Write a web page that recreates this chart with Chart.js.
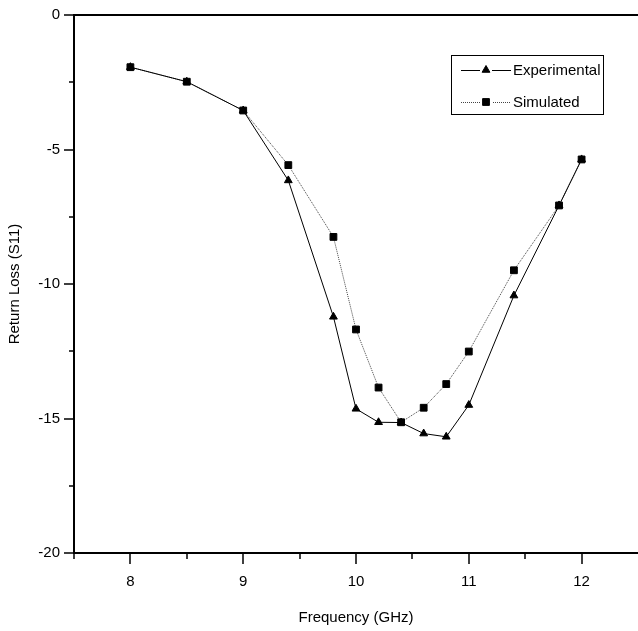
<!DOCTYPE html>
<html>
<head>
<meta charset="utf-8">
<script src="https://cdn.jsdelivr.net/npm/chart.js@4"></script>
<style>
  html, body { margin: 0; padding: 0; background: #fff; }
  #wrap { width: 638px; height: 631px; }
</style>
</head>
<body>
<div id="wrap"><canvas id="chart" width="638" height="631"></canvas></div>
<script>
// Frequency points (GHz)
const frequency = [8, 8.5, 9, 9.4, 9.8, 10, 10.2, 10.4, 10.6, 10.8, 11, 11.4, 11.8, 12];

// Return loss values
const experimental = [-1.94, -2.48, -3.55, -6.15, -11.22, -14.64, -15.14, -15.15, -15.56, -15.68, -14.5, -10.43, -7.08, -5.37];
const simulated    = [-1.94, -2.48, -3.55, -5.58, -8.25, -11.69, -13.85, -15.14, -14.6, -13.72, -12.51, -9.49, -7.08, -5.37];

// Axis ticks
const xMajorTicks = [8, 9, 10, 11, 12];
const xMinorTicks = [7.5, 8.5, 9.5, 10.5, 11.5];
const yMajorTicks = [0, -5, -10, -15, -20];
const yMinorTicks = [-2.5, -7.5, -12.5, -17.5];

const fontFamily = "'Liberation Sans', Arial, sans-serif";

function toPoints(values) {
    return frequency.map((f, i) => ({ x: f, y: values[i] }));
}

// draws outside ticks, the top frame line and the legend box
const framePlugin = {
    id: 'frame',
    afterDraw(chart) {
        const ctx = chart.ctx;
        const area = chart.chartArea;
        const xs = chart.scales.x;
        const ys = chart.scales.y;
        ctx.save();
        ctx.strokeStyle = '#000';

        // top line
        ctx.lineWidth = 2;
        ctx.beginPath();
        ctx.moveTo(area.left - 1, area.top);
        ctx.lineTo(chart.width, area.top);
        ctx.stroke();

        ctx.lineWidth = 1.5;
        ctx.beginPath();
        xMajorTicks.forEach(v => {
            const px = Math.round(xs.getPixelForValue(v));
            ctx.moveTo(px, area.bottom);
            ctx.lineTo(px, area.bottom + 11);
        });
        xMinorTicks.forEach(v => {
            const px = Math.round(xs.getPixelForValue(v));
            ctx.moveTo(px, area.bottom);
            ctx.lineTo(px, area.bottom + 6);
        });
        yMajorTicks.forEach(v => {
            const py = Math.round(ys.getPixelForValue(v));
            ctx.moveTo(area.left, py);
            ctx.lineTo(area.left - 10, py);
        });
        yMinorTicks.forEach(v => {
            const py = Math.round(ys.getPixelForValue(v));
            ctx.moveTo(area.left, py);
            ctx.lineTo(area.left - 5, py);
        });
        ctx.stroke();

        // legend
        const bx = 451, by = 55, bw = 152, bh = 59;
        ctx.lineWidth = 1;
        ctx.strokeRect(bx + 0.5, by + 0.5, bw, bh);

        ctx.font = '15px ' + fontFamily;
        ctx.textBaseline = 'middle';

        const rows = [
            { y: by + 15, label: 'Experimental', ds: chart.data.datasets[0] },
            { y: by + 47, label: 'Simulated', ds: chart.data.datasets[1] }
        ];
        rows.forEach(r => {
            ctx.save();
            ctx.strokeStyle = r.ds.borderColor;
            ctx.lineWidth = 1;
            ctx.setLineDash(r.ds.borderDash || []);
            ctx.beginPath();
            ctx.moveTo(bx + 10, r.y + 0.5);
            ctx.lineTo(bx + 60, r.y + 0.5);
            ctx.stroke();
            ctx.restore();
            ctx.fillStyle = '#fff';
            ctx.fillRect(bx + 29, r.y - 6, 12, 12);
            ctx.fillStyle = '#000';
            ctx.strokeStyle = '#000';
            ctx.lineWidth = 1;
            Chart.helpers.drawPoint(ctx, {
                pointStyle: r.ds.pointStyle,
                rotation: 0,
                radius: r.ds.pointRadius,
                borderWidth: 1
            }, bx + 35, r.y);
            ctx.fillStyle = '#000';
            ctx.fillText(r.label, bx + 62, r.y + 1);
        });
        ctx.restore();
    }
};

new Chart(document.getElementById('chart'), {
    type: 'scatter',
    data: {
        datasets: [{
            label: 'Experimental',
            data: toPoints(experimental),
            showLine: true,
            borderColor: '#000',
            backgroundColor: '#000',
            borderWidth: 1,
            pointStyle: 'triangle',
            pointRadius: 4.5,
            pointBorderWidth: 1,
            tension: 0
        }, {
            label: 'Simulated',
            data: toPoints(simulated),
            showLine: true,
            borderColor: '#444',
            backgroundColor: '#000',
            pointBorderColor: '#000',
            borderWidth: 1,
            borderDash: [1, 1],
            pointStyle: 'rect',
            pointRadius: 4.8,
            pointBorderWidth: 1,
            tension: 0
        }]
    },
    options: {
        responsive: false,
        animation: false,
        layout: { autoPadding: false, padding: { top: 15, right: 0, left: 0, bottom: 0 } },
        plugins: {
            legend: { display: false },
            tooltip: { enabled: false }
        },
        scales: {
            x: {
                type: 'linear',
                min: 7.5,
                max: 12.5,
                afterFit(scale) {
                    scale.height = 78;
                    scale.paddingLeft = 0;
                    scale.paddingRight = 0;
                },
                afterBuildTicks(scale) { scale.ticks = xMajorTicks.map(v => ({ value: v })); },
                grid: { display: false, drawTicks: false },
                border: { display: true, color: '#000', width: 2 },
                ticks: {
                    color: '#000',
                    padding: 20,
                    font: { family: fontFamily, size: 15 }
                },
                title: {
                    display: true,
                    text: 'Frequency (GHz)',
                    color: '#000',
                    font: { family: fontFamily, size: 15 },
                    padding: { top: 19 }
                }
            },
            y: {
                type: 'linear',
                min: -20,
                max: 0,
                afterFit(scale) {
                    scale.width = 74;
                    scale.paddingTop = 0;
                    scale.paddingBottom = 0;
                },
                afterBuildTicks(scale) { scale.ticks = yMajorTicks.map(v => ({ value: v })); },
                grid: { display: false, drawTicks: false },
                border: { display: true, color: '#000', width: 2 },
                ticks: {
                    color: '#000',
                    padding: 14,
                    font: { family: fontFamily, size: 15 }
                },
                title: {
                    display: true,
                    text: 'Return Loss (S11)',
                    color: '#000',
                    font: { family: fontFamily, size: 15 },
                    padding: { top: 6, bottom: 0 }
                }
            }
        }
    },
    plugins: [framePlugin]
});
</script>
</body>
</html>
